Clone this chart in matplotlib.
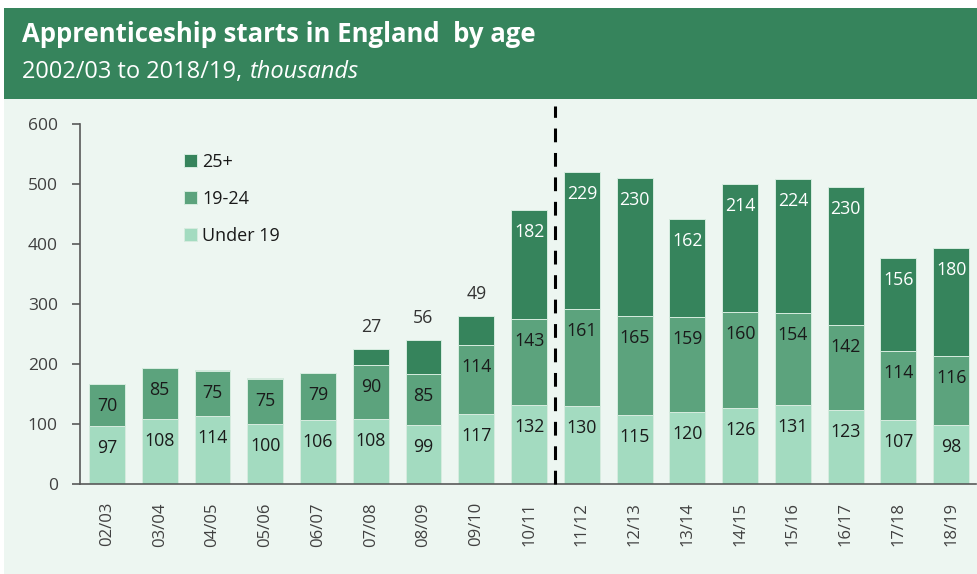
import matplotlib
matplotlib.use("Agg")
from matplotlib import pyplot as plt
from matplotlib.patches import Rectangle
import numpy as np

plt.rcParams['font.family'] = ['Open Sans', 'DejaVu Sans']

# Datos (miles)
years = ["02/03", "03/04", "04/05", "05/06", "06/07", "07/08", "08/09", "09/10", "10/11",
         "11/12", "12/13", "13/14", "14/15", "15/16", "16/17", "17/18", "18/19"]
under19 = [97, 108, 114, 100, 106, 108, 99, 117, 132, 130, 115, 120, 126, 131, 123, 107, 98]
age19_24 = [70, 85, 75, 75, 79, 90, 85, 114, 143, 161, 165, 159, 160, 154, 142, 114, 116]
age25 = [0, 0, 1, 2, 0, 27, 56, 49, 182, 229, 230, 162, 214, 224, 230, 156, 180]

c_header = "#36845C"
c_bg = "#EDF6F1"
c_light = "#A3DBC0"
c_mid = "#5CA37D"
c_dark = "#36845C"

fig = plt.figure(figsize=(9.77, 5.74), dpi=100)
fig.patch.set_facecolor("white")

# Fondos
fig.add_artist(Rectangle((4 / 977, 0), 1, (574 - 99) / 574, transform=fig.transFigure,
                         facecolor=c_bg, edgecolor="none", zorder=-2))
fig.add_artist(Rectangle((4 / 977, (574 - 99) / 574), 1, 91 / 574, transform=fig.transFigure,
                         facecolor=c_header, edgecolor="none", zorder=-2))

fig.text(22 / 977, 1 - 35 / 574, "Apprenticeship starts in England  by age", color="white",
         fontsize=18.5, fontweight="bold", va="center", ha="left")
sub = fig.text(22 / 977, 1 - 72 / 574, "2002/03 to 2018/19, ", color="white",
               fontsize=17, va="center", ha="left")
r = fig.canvas.get_renderer()
bb = sub.get_window_extent(renderer=r)
fig.text(bb.x1 / 977 + 2 / 977, 1 - 72 / 574, "thousands", color="white",
         fontsize=17, style="italic", va="center", ha="left")

ax = fig.add_axes([80 / 977, (574 - 484) / 574, 896 / 977, 360 / 574])
ax.set_facecolor("none")
ax.set_zorder(2)

x = np.arange(len(years))
w = 0.68
edge = dict(edgecolor="#D6ECDF", linewidth=0.7)
b1 = ax.bar(x, under19, w, color=c_light, label="Under 19", **edge)
b2 = ax.bar(x, age19_24, w, bottom=under19, color=c_mid, label="19-24", **edge)
bottom3 = np.array(under19) + np.array(age19_24)
b3 = ax.bar(x, age25, w, bottom=bottom3, color=c_dark, label="25+", **edge)

# Etiquetas de valores
off = 22 / 0.6  # 22 px en unidades de datos
fs = 12.8
for i in range(len(years)):
    ax.text(x[i], under19[i] - off, str(under19[i]), ha="center", va="center",
            fontsize=fs, color="#1a1a1a")
    ax.text(x[i], bottom3[i] - off, str(age19_24[i]), ha="center", va="center",
            fontsize=fs, color="#1a1a1a")
    top = bottom3[i] + age25[i]
    if age25[i] >= 100:
        ax.text(x[i], top - off, str(age25[i]), ha="center", va="center",
                fontsize=fs, color="white")
    elif age25[i] >= 10:
        ax.text(x[i], top + off, str(age25[i]), ha="center", va="center",
                fontsize=fs, color="#333333")

# Línea discontinua
ax.plot([8.5, 8.5], [0, 630], color="black", lw=2.2, ls=(0, (4.5, 3.5)), clip_on=False, zorder=5)

ax.set_xlim(-0.51, 16.47)
ax.set_ylim(0, 600)
ax.set_yticks(range(0, 601, 100))
ax.set_xticks(x)
ax.set_xticklabels(years, rotation=90)
ax.tick_params(axis="x", length=0, pad=13, labelsize=12, labelcolor="#404040")
ax.tick_params(axis="y", length=6, width=1.2, color="#595959", pad=10,
               labelsize=12.5, labelcolor="#404040")
for s in ["top", "right"]:
    ax.spines[s].set_visible(False)
for s in ["left", "bottom"]:
    ax.spines[s].set_color("#595959")
    ax.spines[s].set_linewidth(1.2)

leg = ax.legend(handles=[b3, b2, b1], loc="upper left", bbox_to_anchor=(0.1085, 0.94),
                frameon=False, fontsize=13, handlelength=0.7, handleheight=0.7,
                handletextpad=0.3, labelspacing=1.05, borderaxespad=0)
for t in leg.get_texts():
    t.set_color("#1a1a1a")

fig.savefig("out.png", dpi=100)
